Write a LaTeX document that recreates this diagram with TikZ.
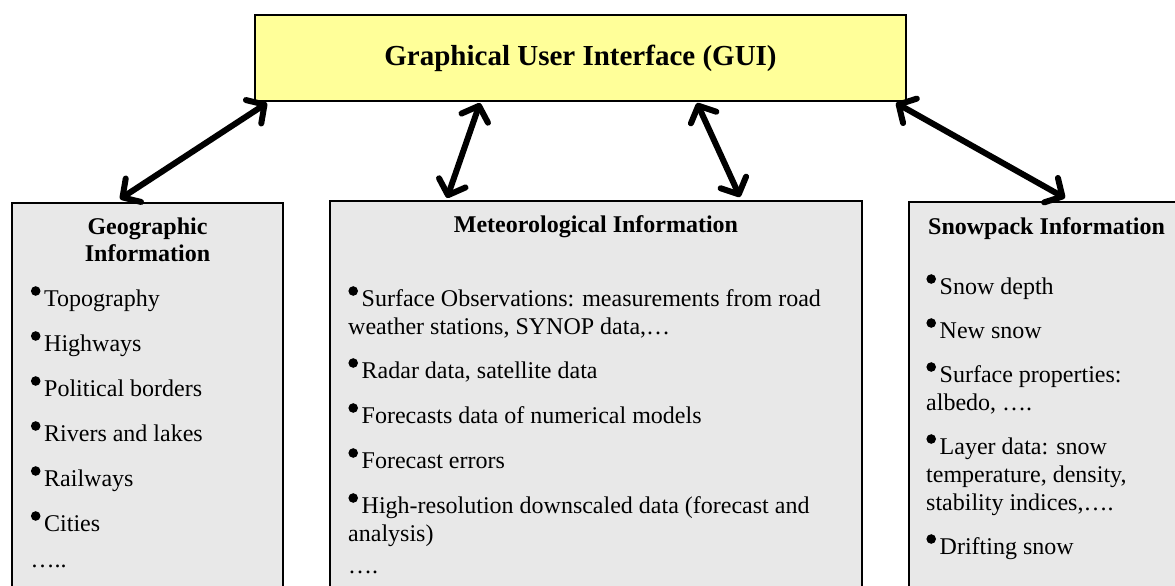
\documentclass[tikz,border=0pt]{standalone}
\usepackage{fontspec}
\setmainfont{Liberation Serif}
\usepackage{xcolor}
\usetikzlibrary{positioning,arrows.meta}

\definecolor{guiyellow}{RGB}{255,255,153}
\definecolor{boxgray}{RGB}{232,232,232}
\newcommand{\bul}{\tikz[baseline=0pt]{\fill (5pt,15pt) circle (4.8pt); \path (0pt,0pt) (13.5pt,0pt);}}

\tikzset{
	guibox/.style={draw, line width=2pt, fill=guiyellow, minimum width=651pt, minimum height=86pt, inner sep=0pt,
		font=\fontsize{29}{34}\selectfont\bfseries},
	infobox/.style={draw, line width=2pt, fill=boxgray, anchor=north west, inner sep=0pt},
	boxhead/.style={inner sep=0pt, align=center, font=\fontsize{24}{27}\selectfont\bfseries},
	itemlist/.style={inner sep=0pt, anchor=north west, align=left, font=\fontsize{24}{28}\selectfont},
	link/.style={line width=6pt, {Straight Barb[length=13pt,width=28pt,round]}-{Straight Barb[length=13pt,width=28pt,round]}}
}

\begin{document}
\begin{tikzpicture}[x=1pt, y=-1pt]
	\clip (0,0) rectangle (1175,586);
	\node[guibox] (gui) at (580.5,58) {Graphical User Interface (GUI)};

	\node[infobox, minimum width=271pt, minimum height=420pt] (geo) at (11,202) {};
	\node[infobox, minimum width=532pt, minimum height=420pt] (met) at (329,200) {};
	\node[infobox, minimum width=300pt, minimum height=420pt] (snow) at (908,201) {};

	\node[boxhead, anchor=north] (geohead) at ([yshift=-16pt]geo.north) {Geographic\\Information};
	\node[boxhead, anchor=north] (methead) at ([yshift=-15pt]met.north) {Meteorological Information};
	\node[boxhead, anchor=north west] (snowhead) at ([xshift=20pt,yshift=-16pt]snow.north west) {Snowpack Information};

	\node[itemlist] (geolist) at ([xshift=19.5pt,yshift=-84pt]geo.north west) {%
		\bul Topography\\[17pt]
		\bul Highways\\[17pt]
		\bul Political borders\\[17pt]
		\bul Rivers and lakes\\[17pt]
		\bul Railways\\[17pt]
		\bul Cities\\[8pt]
		…..};
	\node[itemlist] (metlist) at ([xshift=19pt,yshift=-86pt]met.north west) {%
		\bul Surface Observations: measurements from road\\
		weather stations, SYNOP data,…\\[16pt]
		\bul Radar data, satellite data\\[17pt]
		\bul Forecasts data of numerical models\\[17pt]
		\bul Forecast errors\\[17pt]
		\bul High-resolution downscaled data (forecast and\\
		analysis)\\[4pt]
		….};
	\node[itemlist] (snowlist) at ([xshift=18pt,yshift=-73pt]snow.north west) {%
		\bul Snow depth\\[16pt]
		\bul New snow\\[16pt]
		\bul Surface properties:\\
		albedo, ….\\[16pt]
		\bul Layer data: snow\\
		temperature, density,\\
		stability indices,….\\[16pt]
		\bul Drifting snow};

	\draw[link] ([xshift=13pt,yshift=-1pt]gui.south west) -- ([xshift=109pt,yshift=3pt]geo.north west);
	\draw[link] ([xshift=226pt,yshift=-1pt]gui.south west) -- ([xshift=118pt,yshift=2pt]met.north west);
	\draw[link] ([xshift=443pt,yshift=-1pt]gui.south west) -- ([xshift=411pt,yshift=3pt]met.north west);
	\draw[link] ([xshift=642pt,yshift=-1pt]gui.south west) -- ([xshift=157pt,yshift=3pt]snow.north west);
\end{tikzpicture}
\end{document}
